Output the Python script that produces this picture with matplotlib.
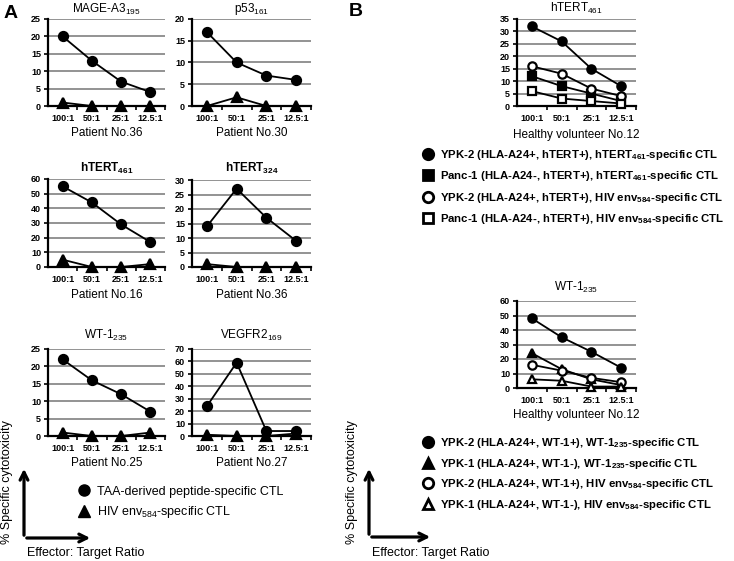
import matplotlib.pyplot as plt
from matplotlib.lines import Line2D
from matplotlib.patches import FancyArrowPatch

plt.rcParams['font.family'] = ['Liberation Sans', 'DejaVu Sans']
plt.rcParams['mathtext.fontset'] = 'custom'
plt.rcParams['mathtext.rm'] = 'Liberation Sans'
plt.rcParams['mathtext.bf'] = 'Liberation Sans:bold'
plt.rcParams['mathtext.default'] = 'regular'

W, H = 734, 561

ratios = ['100:1', '50:1', '25:1', '12.5:1']

# panel A: TAA-derived peptide CTL (circles) vs HIV env584 CTL (triangles)
mage_taa = [20, 13, 7, 4]
mage_hiv = [1, 0, 0, 0]
p53_taa = [17, 10, 7, 6]
p53_hiv = [0, 2, 0, 0]
htert461_taa = [55, 44, 29, 17]
htert461_hiv = [5, 0, 0, 2]
htert324_taa = [14, 27, 17, 9]
htert324_hiv = [1, 0, 0, 0]
wt1_taa = [22, 16, 12, 7]
wt1_hiv = [1, 0, 0, 1]
vegfr_taa = [24, 59, 4, 4]
vegfr_hiv = [1, 0, 0, 2]

# panel B: healthy volunteer No.12
b_htert_ypk2 = [32, 26, 15, 8]
b_htert_panc1 = [12, 8, 5, 2]
b_hiv_ypk2 = [16, 13, 7, 4]
b_hiv_panc1 = [6, 3, 2, 1]
b_wt1_ypk2 = [48, 35, 25, 14]
b_wt1_ypk1 = [24, 13, 6, 2]
b_wt1hiv_ypk2 = [16, 12, 7, 4]
b_wt1hiv_ypk1 = [6, 5, 1, 1]

fig = plt.figure(figsize=(W / 100, H / 100), dpi=100)


def fx(x):
    return x / W


def fy(y):
    return 1 - y / H


def make_ax(x0, x1, y0, y1, ymax, step):
    ax = fig.add_axes([fx(x0), fy(y1), (x1 - x0) / W, (y1 - y0) / H])
    ax.set_xlim(-0.5, 3.5)
    ax.set_ylim(0, ymax)
    ax.set_yticks(range(0, ymax + 1, step))
    ax.yaxis.grid(True, color='#8a8a8a', lw=1.3)
    ax.set_axisbelow(True)
    for s in ['top', 'right']:
        ax.spines[s].set_visible(False)
    for s in ['left', 'bottom']:
        ax.spines[s].set_linewidth(1.6)
    ax.set_xticks(range(4))
    ax.set_xticklabels(ratios, fontsize=6.5, fontweight='bold')
    ax.tick_params(axis='x', which='major', length=0, pad=6)
    ax.set_xticks([0.5, 1.5, 2.5, 3.5], minor=True)
    ax.tick_params(axis='x', which='minor', length=3, width=1.2)
    ax.tick_params(axis='y', length=3, width=1.2, labelsize=6.5, pad=2)
    for lab in ax.get_yticklabels():
        lab.set_fontweight('bold')
    return ax


def line(ax, vals, marker, filled=True, ms=6.5):
    ax.plot(range(4), vals, color='black', lw=1.3, marker=marker, ms=ms,
            mfc='black' if filled else 'white', mec='black', mew=1.6,
            clip_on=False, zorder=3)


def label(x, y, s, size=8.5, weight='normal', **kw):
    fig.text(fx(x), fy(y), s, fontsize=size, fontweight=weight,
             ha='center', va='center', **kw)


# ---- panel A ----
col1 = (48, 165)
col2 = (192, 311)
panels_a = [
    (col1, (19, 106), 25, 5, mage_taa, mage_hiv, 'MAGE-A3$_{195}$', 'normal', 9, 'Patient No.36', 133),
    (col2, (19, 106), 20, 5, p53_taa, p53_hiv, 'p53$_{161}$', 'normal', 9, 'Patient No.30', 133),
    (col1, (179, 267), 60, 10, htert461_taa, htert461_hiv, 'hTERT$_\\mathbf{461}$', 'bold', 168, 'Patient No.16', 295),
    (col2, (180, 267), 30, 5, htert324_taa, htert324_hiv, 'hTERT$_\\mathbf{324}$', 'bold', 168, 'Patient No.36', 295),
    (col1, (349, 436), 25, 5, wt1_taa, wt1_hiv, 'WT-1$_{235}$', 'normal', 335, 'Patient No.25', 463),
    (col2, (349, 436), 70, 10, vegfr_taa, vegfr_hiv, 'VEGFR2$_{169}$', 'normal', 335, 'Patient No.27', 463),
]
for (x0, x1), (y0, y1), ymax, step, taa, hiv, title, tw, ty, pat, py in panels_a:
    ax = make_ax(x0, x1, y0, y1, ymax, step)
    line(ax, taa, 'o')
    line(ax, hiv, '^')
    label((x0 + x1) / 2, ty, title, size=8.5, weight=tw)
    label((x0 + x1) / 2, py, pat, size=8.5)

fig.text(fx(11), fy(13), 'A', fontsize=14, fontweight='bold', ha='center', va='center')
fig.text(fx(356), fy(12), 'B', fontsize=14, fontweight='bold', ha='center', va='center')

legA = [Line2D([], [], color='black', marker='o', ls='none', ms=8),
        Line2D([], [], color='black', marker='^', ls='none', ms=8)]
fig.legend(legA, ['TAA-derived peptide-specific CTL', 'HIV env$_{584}$-specific CTL'],
           loc='center left', bbox_to_anchor=(fx(78), fy(503)), frameon=False,
           fontsize=9, handlelength=1, handletextpad=0.5, labelspacing=0.55,
           borderpad=0, borderaxespad=0)

# ---- panel B ----
bcol = (517, 636)
ax = make_ax(bcol[0], bcol[1], 19, 106, 35, 5)
line(ax, b_htert_ypk2, 'o', ms=6)
line(ax, b_htert_panc1, 's', ms=6)
line(ax, b_hiv_ypk2, 'o', filled=False, ms=6)
line(ax, b_hiv_panc1, 's', filled=False, ms=6)
label(576.5, 8, 'hTERT$_{461}$', size=8.5)
label(576.5, 135, 'Healthy volunteer No.12', size=8.5)

ax = make_ax(bcol[0], bcol[1], 301, 388, 60, 10)
line(ax, b_wt1_ypk2, 'o', ms=6)
line(ax, b_wt1_ypk1, '^', ms=6)
line(ax, b_wt1hiv_ypk2, 'o', filled=False, ms=6)
line(ax, b_wt1hiv_ypk1, '^', filled=False, ms=6)
label(576.5, 287, 'WT-1$_{235}$', size=8.5)
label(576.5, 415, 'Healthy volunteer No.12', size=8.5)


def proxy(marker, filled):
    return Line2D([], [], ls='none', marker=marker, ms=7.5,
                  mfc='black' if filled else 'white', mec='black', mew=2)


legB1 = [proxy('o', True), proxy('s', True), proxy('o', False), proxy('s', False)]
fig.legend(legB1, ['YPK-2 (HLA-A24+, hTERT+), hTERT$_\\mathbf{461}$-specific CTL',
                   'Panc-1 (HLA-A24-, hTERT+), hTERT$_\\mathbf{461}$-specific CTL',
                   'YPK-2 (HLA-A24+, hTERT+), HIV env$_\\mathbf{584}$-specific CTL',
                   'Panc-1 (HLA-A24-, hTERT+), HIV env$_\\mathbf{584}$-specific CTL'],
           loc='center left', bbox_to_anchor=(fx(422), fy(187)), frameon=False,
           prop={'size': 8.2, 'weight': 'bold'}, handlelength=1, handletextpad=0.6,
           labelspacing=0.65, borderpad=0, borderaxespad=0)

legB2 = [proxy('o', True), proxy('^', True), proxy('o', False), proxy('^', False)]
fig.legend(legB2, ['YPK-2 (HLA-A24+, WT-1+), WT-1$_\\mathbf{235}$-specific CTL',
                   'YPK-1 (HLA-A24+, WT-1-), WT-1$_\\mathbf{235}$-specific CTL',
                   'YPK-2 (HLA-A24+, WT-1+), HIV env$_\\mathbf{584}$-specific CTL',
                   'YPK-1 (HLA-A24+, WT-1-), HIV env$_\\mathbf{584}$-specific CTL'],
           loc='center left', bbox_to_anchor=(fx(422), fy(474)), frameon=False,
           prop={'size': 8.2, 'weight': 'bold'}, handlelength=1, handletextpad=0.6,
           labelspacing=0.6, borderpad=0, borderaxespad=0)

# axis-orientation arrows in the lower-left of each panel
for cx, tipx, cy, lx, tx in [(24, 93, 538, 7, 27), (369, 433, 537, 352, 372)]:
    for end in [(cx, 466), (tipx, cy)]:
        fig.add_artist(FancyArrowPatch((fx(cx), fy(cy)), (fx(end[0]), fy(end[1])),
                                       transform=fig.transFigure, arrowstyle='->',
                                       mutation_scale=14, lw=2.3, color='black'))
    fig.text(fx(lx), fy(482), '% Specific cytotoxicity', rotation=90,
             fontsize=9, ha='center', va='center')
    fig.text(fx(tx), fy(553), 'Effector: Target Ratio', fontsize=9,
             ha='left', va='center')

fig.savefig('out.png', dpi=100)
